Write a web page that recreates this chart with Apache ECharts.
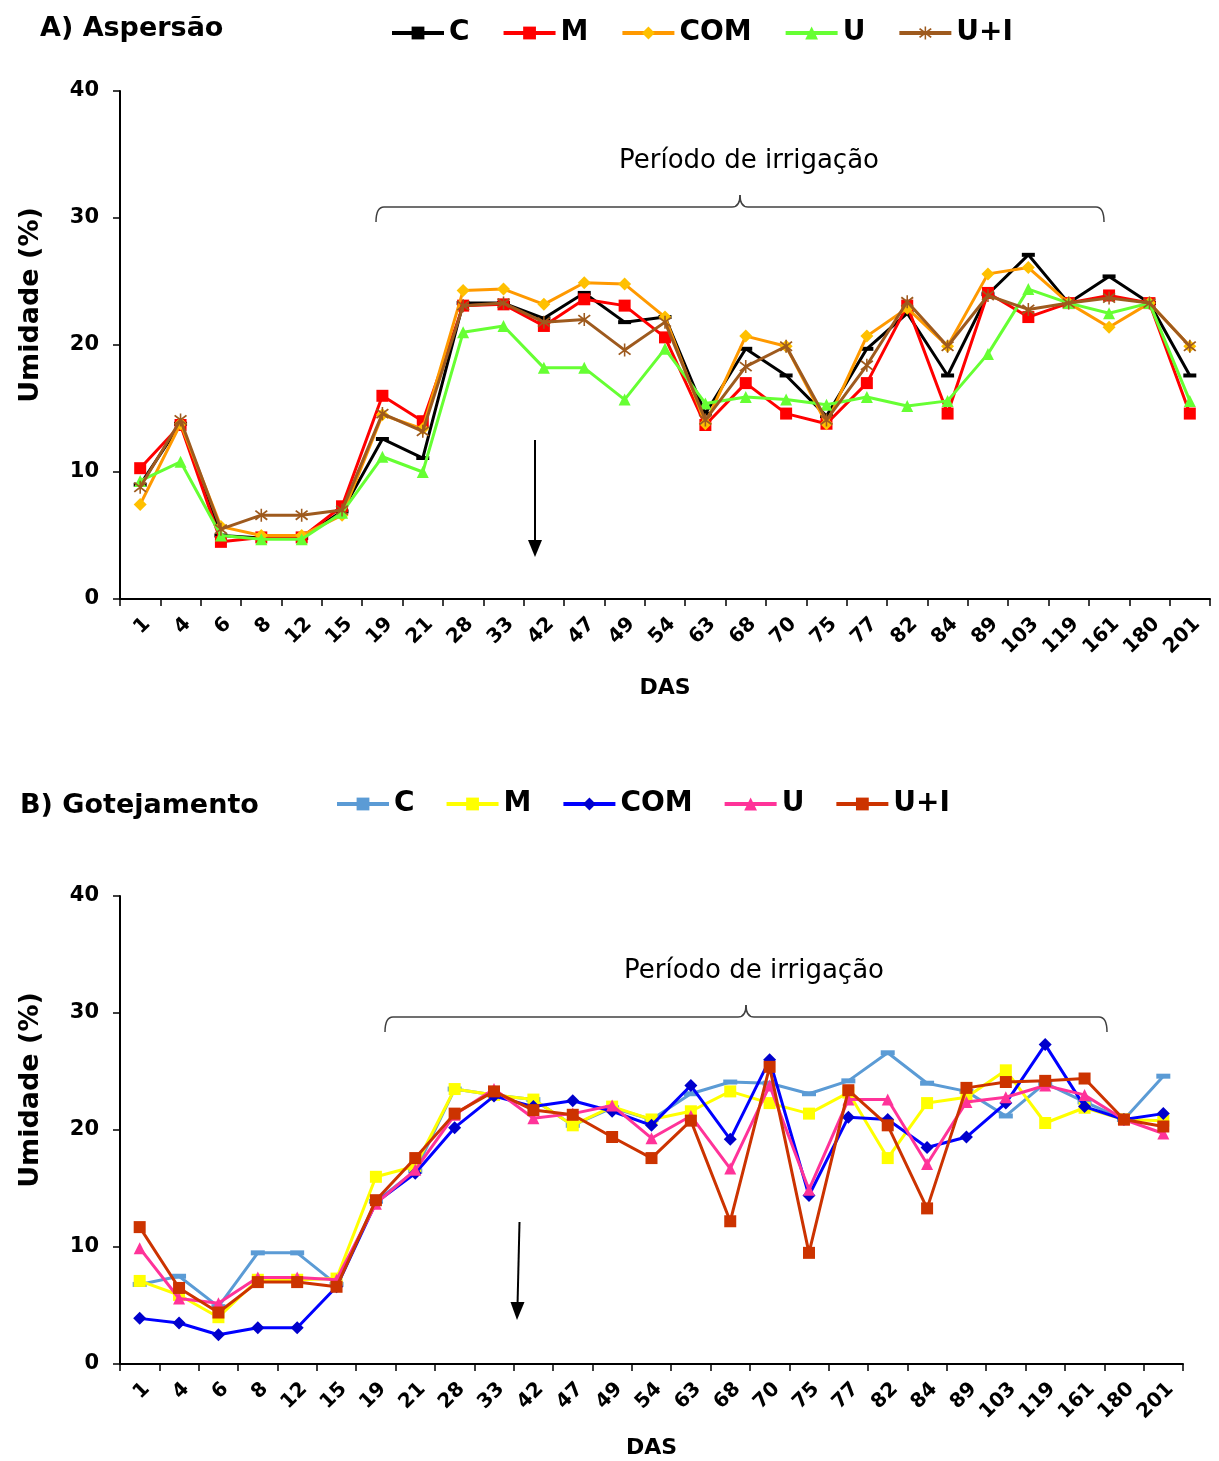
<!DOCTYPE html>
<html>
<head>
<meta charset="utf-8">
<script src="https://cdn.jsdelivr.net/npm/echarts@6/dist/echarts.min.js"></script>
<style>
html,body{margin:0;padding:0;background:#fff;}
#chart{width:1219px;height:1461px;}
</style>
</head>
<body>
<div id="chart"></div>
<script>
// Categories (DAS)
const days = ['1','4','6','8','12','15','19','21','28','33','42','47','49','54','63','68','70','75','77','82','84','89','103','119','161','180','201'];
const yTicks = [0, 10, 20, 30, 40];

// A) Aspersão
const aC   = [9.0, 13.8, 5.0, 4.8, 4.8, 6.9, 12.6, 11.1, 23.3, 23.3, 22.1, 24.1, 21.8, 22.2, 14.6, 19.7, 17.6, 14.4, 19.7, 22.5, 17.6, 24.0, 27.1, 23.3, 25.4, 23.3, 17.6];
const aM   = [10.3, 13.7, 4.5, 4.85, 4.85, 7.3, 16.0, 14.0, 23.1, 23.2, 21.5, 23.6, 23.1, 20.6, 13.7, 17.0, 14.6, 13.8, 17.0, 23.1, 14.6, 24.1, 22.2, 23.3, 23.9, 23.3, 14.6];
const aCOM = [7.45, 13.8, 5.7, 5.0, 5.0, 6.6, 14.5, 13.4, 24.3, 24.4, 23.2, 24.9, 24.8, 22.2, 13.8, 20.7, 19.9, 13.8, 20.7, 22.9, 19.9, 25.6, 26.1, 23.3, 21.4, 23.3, 19.9];
const aU   = [9.3, 10.8, 5.0, 4.7, 4.7, 6.8, 11.2, 10.0, 21.0, 21.5, 18.2, 18.2, 15.7, 19.7, 15.4, 15.9, 15.7, 15.3, 15.9, 15.2, 15.6, 19.3, 24.4, 23.3, 22.5, 23.3, 15.6];
const aUI  = [8.8, 14.1, 5.5, 6.6, 6.6, 7.0, 14.6, 13.2, 23.1, 23.3, 21.8, 22.0, 19.6, 21.8, 14.1, 18.3, 19.9, 14.1, 18.4, 23.4, 19.9, 23.9, 22.8, 23.3, 23.7, 23.3, 19.9];

// B) Gotejamento
const bC   = [6.8, 7.5, 4.9, 9.5, 9.5, 6.8, 13.9, 16.5, 23.5, 23.0, 22.6, 20.4, 21.9, 20.9, 23.1, 24.1, 24.0, 23.1, 24.2, 26.6, 24.0, 23.3, 21.2, 24.0, 22.4, 20.9, 24.6];
const bM   = [7.1, 5.9, 4.0, 7.2, 7.2, 7.3, 16.0, 16.9, 23.5, 23.0, 22.6, 20.4, 22.0, 20.9, 21.6, 23.3, 22.3, 21.4, 23.2, 17.6, 22.3, 22.8, 25.1, 20.6, 21.9, 20.9, 20.8];
const bCOM = [3.9, 3.5, 2.5, 3.1, 3.1, 6.6, 13.8, 16.3, 20.2, 22.9, 22.0, 22.5, 21.6, 20.4, 23.8, 19.2, 26.0, 14.4, 21.1, 20.9, 18.5, 19.4, 22.3, 27.3, 22.0, 20.9, 21.4];
const bU   = [9.9, 5.6, 5.2, 7.4, 7.4, 7.2, 13.7, 16.6, 21.3, 23.5, 21.0, 21.4, 22.1, 19.3, 21.2, 16.7, 23.8, 14.9, 22.6, 22.6, 17.1, 22.4, 22.8, 23.8, 23.0, 20.9, 19.7];
const bUI  = [11.7, 6.5, 4.4, 7.0, 7.0, 6.6, 14.0, 17.6, 21.4, 23.3, 21.7, 21.3, 19.4, 17.6, 20.8, 12.2, 25.4, 9.5, 23.4, 20.4, 13.3, 23.6, 24.1, 24.2, 24.4, 20.9, 20.3];

const seriesNames = ['C', 'M', 'COM', 'U', 'U+I'];
const panelTitles = ['A) Aspersão', 'B) Gotejamento'];
const annotation = 'Período de irrigação';

const FONT = '"DejaVu Sans", "Liberation Sans", Arial, sans-serif';
const STAR = 'path://M4.4 0 L5.6 0 L5.6 10 L4.4 10 Z M0 2 L0.9 1 L10 8 L9.1 9 Z M9.1 1 L10 2 L0.9 9 L0 8 Z';

const styleA = [
  {line:'#000000', item:'#000000', symbol:'rect', size:[13,4]},
  {line:'#FF0000', item:'#FF0000', symbol:'rect', size:12},
  {line:'#FF9900', item:'#FFC000', symbol:'diamond', size:13},
  {line:'#66FF33', item:'#66FF33', symbol:'triangle', size:12},
  {line:'#9E5A1E', item:'#9E5A1E', symbol:STAR, size:13}
];
const styleB = [
  {line:'#5B9BD5', item:'#5B9BD5', symbol:'rect', size:[14,5]},
  {line:'#FFFF00', item:'#FFFF00', symbol:'rect', size:12},
  {line:'#0000FF', item:'#0000CC', symbol:'diamond', size:13},
  {line:'#FF3399', item:'#FF3399', symbol:'triangle', size:12},
  {line:'#CC3300', item:'#CC3300', symbol:'rect', size:12}
];

const dataA = [aC, aM, aCOM, aU, aUI];
const dataB = [bC, bM, bCOM, bU, bUI];

function mkSeries(prefix, data, styles, idx) {
  return seriesNames.map((n, i) => ({
    name: prefix + n,
    type: 'line',
    xAxisIndex: idx, yAxisIndex: idx,
    data: data[i],
    symbol: styles[i].symbol,
    symbolSize: styles[i].size,
    showAllSymbol: true,
    lineStyle: {color: styles[i].line, width: 3},
    itemStyle: {color: styles[i].item},
    z: 2 + i
  }));
}

function xAx(idx, gap) {
  return {
    type: 'category', gridIndex: idx, data: days, boundaryGap: true,
    axisLine: {lineStyle: {color: '#000', width: 2}},
    axisTick: {show: true, length: 7, lineStyle: {color: '#000', width: 1.5}},
    axisLabel: {interval: 0, rotate: 45, margin: 15, verticalAlign: 'top', color: '#000', fontSize: 20, fontWeight: 'bold', fontFamily: FONT},
    splitLine: {show: false},
    name: 'DAS', nameLocation: 'middle', nameGap: gap,
    nameTextStyle: {color: '#000', fontSize: 22, fontWeight: 'bold', fontFamily: FONT}
  };
}
function yAx(idx) {
  return {
    type: 'value', gridIndex: idx, min: yTicks[0], max: yTicks[yTicks.length - 1], interval: 10,
    axisLine: {show: true, lineStyle: {color: '#000', width: 2}},
    axisTick: {show: true, length: 7, lineStyle: {color: '#000', width: 1.5}},
    axisLabel: {margin: 21, color: '#000', fontSize: 21, fontWeight: 'bold', fontFamily: FONT},
    splitLine: {show: false},
    name: 'Umidade (%)', nameLocation: 'middle', nameGap: 76,
    nameTextStyle: {color: '#000', fontSize: 27, fontWeight: 'bold', fontFamily: FONT, padding: [0, 0, 0, 80]}
  };
}

function legend(prefix, left, top, gap) {
  return {
    data: seriesNames.map(n => prefix + n),
    left: left, top: top, padding: 0,
    itemWidth: 52, itemHeight: 16, itemGap: gap,
    lineStyle: {width: 4},
    formatter: name => name.slice(prefix.length),
    textStyle: {color: '#000', fontSize: 28, fontWeight: 'bold', fontFamily: FONT}
  };
}

function brace(x1, x2, xm, y, yEnd, yPeak) {
  const st = {stroke: '#404040', lineWidth: 1.5, fill: null};
  const r = 8;
  return [
    {type: 'bezierCurve', shape: {x1: x1, y1: yEnd, cpx1: x1, cpy1: y, x2: x1 + r, y2: y}, style: st},
    {type: 'line', shape: {x1: x1 + r, y1: y, x2: xm - r, y2: y}, style: st},
    {type: 'bezierCurve', shape: {x1: xm - r, y1: y, cpx1: xm, cpy1: y, x2: xm, y2: yPeak}, style: st},
    {type: 'bezierCurve', shape: {x1: xm, y1: yPeak, cpx1: xm, cpy1: y, x2: xm + r, y2: y}, style: st},
    {type: 'line', shape: {x1: xm + r, y1: y, x2: x2 - r, y2: y}, style: st},
    {type: 'bezierCurve', shape: {x1: x2 - r, y1: y, cpx1: x2, cpy1: y, x2: x2, y2: yEnd}, style: st}
  ];
}

const chart = echarts.init(document.getElementById('chart'), null, {renderer: 'canvas'});
chart.setOption({
  animation: false,
  backgroundColor: '#fff',
  title: [
    {text: panelTitles[0], left: 35, top: 10, padding: 5, textStyle: {color: '#000', fontSize: 27, fontWeight: 'bold', fontFamily: FONT}},
    {text: panelTitles[1], left: 15, top: 787, padding: 5, textStyle: {color: '#000', fontSize: 27, fontWeight: 'bold', fontFamily: FONT}}
  ],
  legend: [legend('A:', 390, 19, 32), legend('B:', 335, 790, 30)],
  grid: [
    {left: 120, top: 91, width: 1090, height: 508, containLabel: false},
    {left: 120, top: 896, width: 1063, height: 468, containLabel: false}
  ],
  xAxis: [xAx(0, 78), xAx(1, 73)],
  yAxis: [yAx(0), yAx(1)],
  series: mkSeries('A:', dataA, styleA, 0).concat(mkSeries('B:', dataB, styleB, 1)),
  graphic: [
    {type: 'text', x: 749, y: 161, style: {text: annotation, textAlign: 'center', textVerticalAlign: 'middle', fontSize: 26, fontFamily: FONT, fill: '#000'}},
    {type: 'line', shape: {x1: 535, y1: 440, x2: 535, y2: 545}, style: {stroke: '#000', lineWidth: 2}},
    {type: 'polygon', shape: {points: [[528, 540], [542, 540], [535, 557]]}, style: {fill: '#000'}},
    {type: 'text', x: 754, y: 971, style: {text: annotation, textAlign: 'center', textVerticalAlign: 'middle', fontSize: 26, fontFamily: FONT, fill: '#000'}},
    {type: 'line', shape: {x1: 519.5, y1: 1222, x2: 517.5, y2: 1306}, style: {stroke: '#000', lineWidth: 2}},
    {type: 'polygon', shape: {points: [[510.5, 1302], [524.5, 1302], [517, 1320]]}, style: {fill: '#000'}}
  ].concat(brace(376, 1104, 740, 207, 222, 195)).concat(brace(385, 1107, 746, 1017, 1032, 1005))
});
</script>
</body>
</html>
